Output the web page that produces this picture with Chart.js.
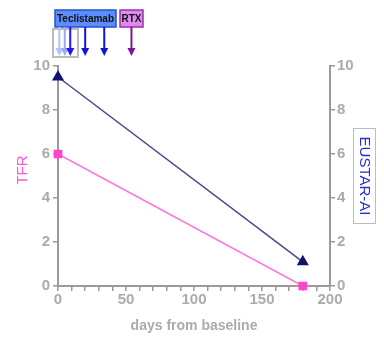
<!DOCTYPE html>
<html>
<head>
<meta charset="utf-8">
<script src="https://cdn.jsdelivr.net/npm/chart.js@4.4.0/dist/chart.umd.min.js"></script>
<style>
  html, body { margin: 0; padding: 0; background: #fff; }
  #wrap { width: 384px; height: 339px; position: relative; }
</style>
</head>
<body>
<div id="wrap"><canvas id="chart" width="384" height="339"></canvas></div>
<script>
// data
const days = [0, 180];
const tfrValues = [6, 0];
const eustarValues = [9.5, 1.1];
const xTicks = [0, 50, 100, 150, 200];
const yTicks = [0, 2, 4, 6, 8, 10];
const teclistamabDays = [1, 5, 9, 20, 34];
const rtxDays = [54];

const teclistamabArrowColors = ['#a9c6ff', '#a4a4ff', '#1a1aee', '#1212dd', '#1212dd'];
const axisGrey = '#9a9a9a';
const labelGrey = '#ababab';

function toPoints(xs, ys) {
    return xs.map((x, i) => ({ x: x, y: ys[i] }));
}

function drawArrow(ctx, x, y0, y1, color) {
    ctx.save();
    ctx.strokeStyle = color;
    ctx.fillStyle = color;
    ctx.lineWidth = 2;
    ctx.beginPath();
    ctx.moveTo(x, y0);
    ctx.lineTo(x, y1 - 6);
    ctx.stroke();
    ctx.beginPath();
    ctx.moveTo(x - 4, y1 - 8);
    ctx.lineTo(x + 4, y1 - 8);
    ctx.lineTo(x, y1);
    ctx.closePath();
    ctx.fill();
    ctx.restore();
}

const extras = {
    id: 'extras',
    afterDraw(chart) {
        const ctx = chart.ctx;
        const xs = chart.scales.x;

        // left title
        ctx.save();
        ctx.translate(23, 170);
        ctx.rotate(-Math.PI / 2);
        ctx.fillStyle = '#ff55dd';
        ctx.font = '15px "Liberation Sans", Arial, sans-serif';
        ctx.textAlign = 'center';
        ctx.textBaseline = 'middle';
        ctx.fillText('TFR', 0, 0);
        ctx.restore();

        // right title in a box
        ctx.save();
        ctx.strokeStyle = '#bdbdbd';
        ctx.lineWidth = 1;
        ctx.strokeRect(353.5, 128.5, 22, 95);
        ctx.translate(364.5, 176);
        ctx.rotate(Math.PI / 2);
        ctx.fillStyle = '#2b2bd6';
        ctx.font = '15px "Liberation Sans", Arial, sans-serif';
        ctx.textAlign = 'center';
        ctx.textBaseline = 'middle';
        ctx.fillText('EUSTAR-AI', 0, 0);
        ctx.restore();

        // treatment boxes
        ctx.save();
        ctx.lineWidth = 1.5;
        ctx.fillStyle = '#5c8dfc';
        ctx.strokeStyle = '#2a4fd0';
        ctx.fillRect(55, 10, 61, 17);
        ctx.strokeRect(55, 10, 61, 17);
        ctx.fillStyle = '#dc8cec';
        ctx.strokeStyle = '#9a2fa8';
        ctx.fillRect(120, 10, 23, 17);
        ctx.strokeRect(120, 10, 23, 17);
        ctx.fillStyle = '#111';
        ctx.font = 'bold 10px "Liberation Sans", Arial, sans-serif';
        ctx.textAlign = 'center';
        ctx.textBaseline = 'middle';
        ctx.fillText('Teclistamab', 85.5, 19);
        ctx.fillText('RTX', 131.5, 19);

        // grey frame round the first doses
        ctx.strokeStyle = '#bcbcbc';
        ctx.lineWidth = 2;
        ctx.strokeRect(53, 29, 25, 28);
        ctx.restore();

        teclistamabDays.forEach((d, i) => {
            drawArrow(ctx, xs.getPixelForValue(d), 27, 56, teclistamabArrowColors[i]);
        });
        rtxDays.forEach((d) => {
            drawArrow(ctx, xs.getPixelForValue(d), 27, 56, '#85129a');
        });
    },
};

const tickFont = { family: '"Liberation Sans", Arial, sans-serif', size: 15, weight: 'bold' };

new Chart(document.getElementById('chart'), {
    type: 'line',
    data: {
        datasets: [
            {
                label: 'TFR',
                data: toPoints(days, tfrValues),
                yAxisID: 'y',
                borderColor: '#ff77dd',
                borderWidth: 1.5,
                pointStyle: 'rect',
                pointRadius: 5,
                pointBackgroundColor: '#ff44cc',
                pointBorderColor: '#ff44cc',
                clip: false,
            },
            {
                label: 'EUSTAR-AI',
                data: toPoints(days, eustarValues),
                yAxisID: 'y2',
                borderColor: '#47478f',
                borderWidth: 1.5,
                pointStyle: 'triangle',
                pointRadius: 5.5,
                pointBackgroundColor: '#12126e',
                pointBorderColor: '#12126e',
                clip: false,
            },
        ],
    },
    options: {
        responsive: false,
        animation: false,
        layout: { padding: { top: 66, left: 0, right: 0, bottom: 0 } },
        plugins: {
            legend: { display: false },
            tooltip: { enabled: false },
        },
        scales: {
            x: {
                type: 'linear',
                min: 0,
                max: 200,
                afterFit: (s) => { s.height = 53; },
                afterBuildTicks: (s) => {
                    const t = [];
                    for (let v = 0; v <= 200; v += 10) t.push({ value: v });
                    s.ticks = t;
                },
                ticks: {
                    autoSkip: false,
                    maxRotation: 0,
                    color: labelGrey,
                    font: tickFont,
                    padding: 0,
                    callback: (v) => (xTicks.includes(v) ? v : ''),
                },
                grid: { drawOnChartArea: false, tickLength: 5, color: axisGrey, lineWidth: 1.5 },
                border: { color: axisGrey, width: 2 },
                title: {
                    display: true,
                    text: 'days from baseline',
                    color: labelGrey,
                    font: { family: '"Liberation Sans", Arial, sans-serif', size: 14, weight: 'bold' },
                    padding: { top: 0 },
                },
            },
            y: {
                position: 'left',
                min: 0,
                max: 10,
                afterFit: (s) => { s.width = 58; },
                afterBuildTicks: (s) => { s.ticks = yTicks.map((v) => ({ value: v })); },
                ticks: { color: labelGrey, font: tickFont, padding: 3 },
                grid: { drawOnChartArea: false, tickLength: 5, color: axisGrey, lineWidth: 1.5 },
                border: { color: axisGrey, width: 2 },
            },
            y2: {
                position: 'right',
                min: 0,
                max: 10,
                afterFit: (s) => { s.width = 54; },
                afterBuildTicks: (s) => { s.ticks = yTicks.map((v) => ({ value: v })); },
                ticks: { color: labelGrey, font: tickFont, padding: 2 },
                grid: { drawOnChartArea: false, tickLength: 5, color: axisGrey, lineWidth: 1.5 },
                border: { color: axisGrey, width: 2 },
            },
        },
    },
    plugins: [extras],
});
</script>
</body>
</html>
